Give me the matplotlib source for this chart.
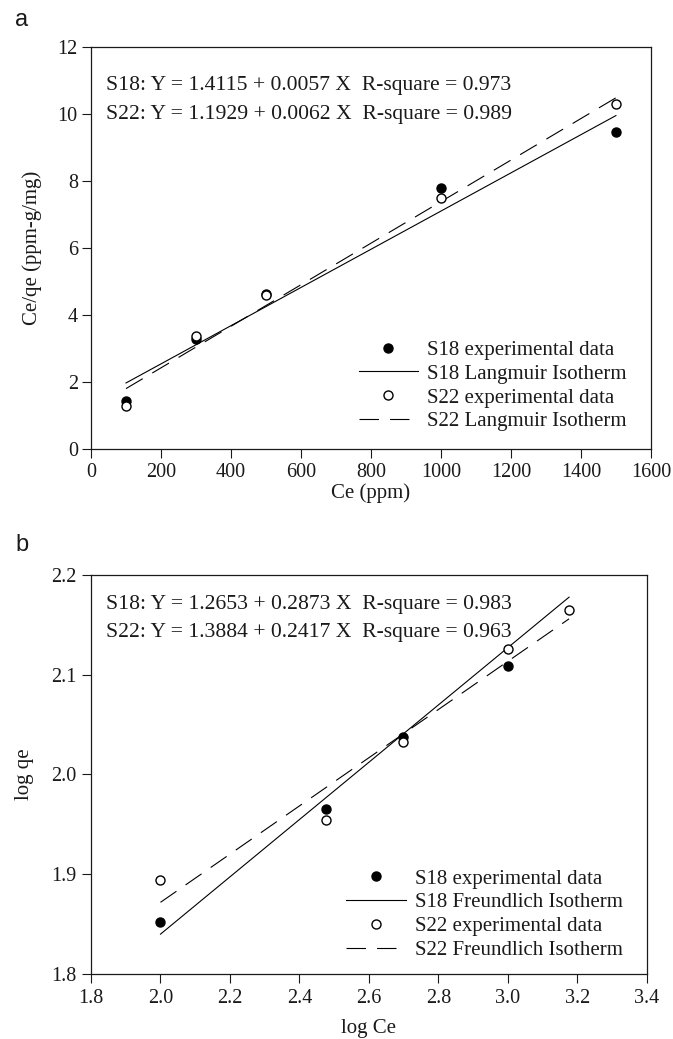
import matplotlib
matplotlib.use("Agg")
import matplotlib.pyplot as plt
import numpy as np

plt.rcParams['font.family'] = ['Liberation Serif', 'DejaVu Serif']
plt.rcParams['lines.scale_dashes'] = False

# Panel a: Langmuir
ce = [100, 300, 500, 1000, 1500]
s18_ceqe = [1.45, 3.28, 4.65, 7.80, 9.47]
s22_ceqe = [1.30, 3.37, 4.60, 7.50, 10.30]
lang_s18 = (1.4115, 0.0057)
lang_s22 = (1.1929, 0.0062)
lang_range = [100, 1500]

# Panel b: Freundlich
logce_s18 = [2.0, 2.477, 2.699, 3.0]
logqe_s18 = [1.852, 1.965, 2.038, 2.109]
logce_s22 = [2.0, 2.477, 2.699, 3.0, 3.176]
logqe_s22 = [1.894, 1.954, 2.033, 2.126, 2.165]
fr_s18 = (1.2653, 0.2873)
fr_s22 = (1.3884, 0.2417)
fr_range = [2.0, 3.176]

fig = plt.figure(figsize=(6.73, 10.39), dpi=100)
axA = fig.add_axes([0.1352, 0.5675, 0.832, 0.387])
axB = fig.add_axes([0.1352, 0.0626, 0.826, 0.384])

FS = 14.5
LFS = 15
AFS = 15.6
DASH = (0, (14, 8))
INK = '#1a1a1a'

def style(ax, pad):
    ax.tick_params(direction='out', length=6.5, width=0.8, labelsize=FS, pad=pad,
                   top=False, right=False, colors=INK)
    for s in ax.spines.values():
        s.set_linewidth(0.9)
        s.set_color(INK)

def draw(ax, x1, y1, x2, y2, f1, f2, xr, name, anchor):
    xs = np.array(xr)
    ax.plot(x1, y1, 'o', color='black', ms=6.5, ls='none', label='S18 experimental data', zorder=3)
    ax.plot(xs, f1[0] + f1[1] * xs, '-', color='black', lw=0.8, label=f'S18 {name} Isotherm')
    ax.plot(x2, y2, 'o', mfc='white', mec='black', mew=1.0, ms=6.5, ls='none',
            label='S22 experimental data', zorder=3)
    ax.plot(xs, f2[0] + f2[1] * xs, color='black', lw=0.8, linestyle=DASH,
            label=f'S22 {name} Isotherm')
    leg = ax.legend(loc='lower right', frameon=False, fontsize=LFS, handlelength=2.85,
                    labelspacing=0.2, handletextpad=0.45, borderaxespad=0.0, borderpad=0.0,
                    bbox_to_anchor=anchor)
    for t in leg.get_texts():
        t.set_color(INK)

draw(axA, ce, s18_ceqe, ce, s22_ceqe, lang_s18, lang_s22, lang_range, 'Langmuir', (0.957, 0.045))
axA.set_xlim(0, 1600)
axA.set_ylim(0, 12)
axA.set_xticks(np.arange(0, 1601, 200))
axA.set_yticks(np.arange(0, 13, 2))
axA.set_xlabel('Ce (ppm)', fontsize=LFS, labelpad=1, color=INK)
axA.set_ylabel('Ce/qe (ppm-g/mg)', fontsize=LFS, labelpad=11, color=INK)
style(axA, 3)
axA.text(0.027, 0.905, 'S18: Y = 1.4115 + 0.0057 X  R-square = 0.973', transform=axA.transAxes,
         fontsize=AFS, va='center', color=INK)
axA.text(0.027, 0.833, 'S22: Y = 1.1929 + 0.0062 X  R-square = 0.989', transform=axA.transAxes,
         fontsize=AFS, va='center', color=INK)

draw(axB, logce_s18, logqe_s18, logce_s22, logqe_s22, fr_s18, fr_s22, fr_range, 'Freundlich', (0.957, 0.035))
axB.set_xlim(1.8, 3.4)
axB.set_ylim(1.8, 2.2)
axB.set_xticks(np.round(np.arange(1.8, 3.41, 0.2), 1))
axB.set_yticks([1.8, 1.9, 2.0, 2.1, 2.2])
axB.xaxis.set_major_formatter(matplotlib.ticker.FormatStrFormatter('%.1f'))
axB.yaxis.set_major_formatter(matplotlib.ticker.FormatStrFormatter('%.1f'))
axB.set_xlabel('log Ce', fontsize=LFS, labelpad=8, color=INK)
axB.set_ylabel('log qe', fontsize=LFS, labelpad=12, color=INK)
style(axB, 4)
axB.text(0.027, 0.925, 'S18: Y = 1.2653 + 0.2873 X  R-square = 0.983', transform=axB.transAxes,
         fontsize=AFS, va='center', color=INK)
axB.text(0.027, 0.855, 'S22: Y = 1.3884 + 0.2417 X  R-square = 0.963', transform=axB.transAxes,
         fontsize=AFS, va='center', color=INK)

fig.text(15 / 673, 1 - 20 / 1039, 'a', fontsize=17, family='Liberation Sans', va='center', color=INK)
fig.text(15 / 673, 1 - 545 / 1039, 'b', fontsize=17, family='Liberation Sans', va='center', color=INK)

fig.savefig('out.png', dpi=100)
